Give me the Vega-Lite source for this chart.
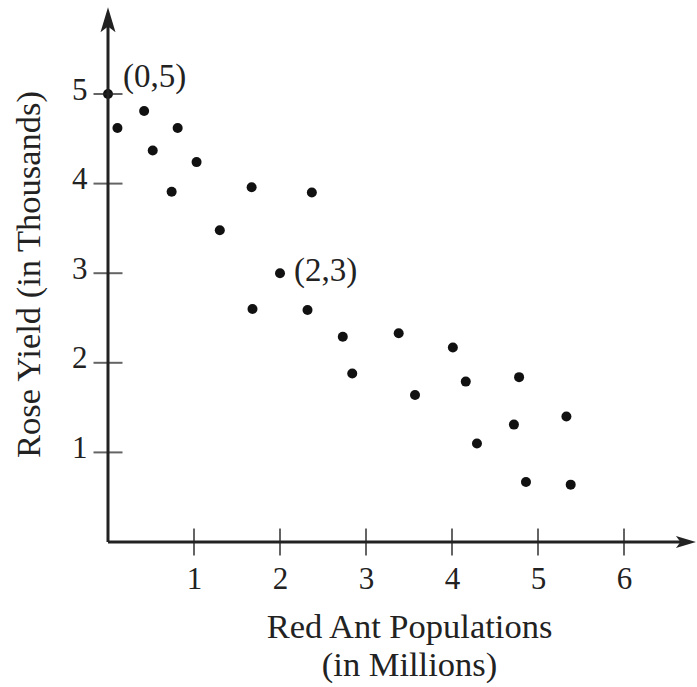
{
  "$schema": "https://vega.github.io/schema/vega-lite/v6.json",
  "width": 588,
  "height": 535,
  "autosize": {"type": "none"},
  "padding": {"left": 108, "top": 7, "right": 1, "bottom": 145},
  "background": "white",
  "config": {"view": {"stroke": null}, "font": "Liberation Serif"},
  "datasets": {
    "points": [
      {"ants": 0, "roses": 5},
      {"ants": 0.11, "roses": 4.62},
      {"ants": 0.42, "roses": 4.81},
      {"ants": 0.81, "roses": 4.62},
      {"ants": 0.52, "roses": 4.37},
      {"ants": 1.03, "roses": 4.24},
      {"ants": 0.74, "roses": 3.91},
      {"ants": 1.67, "roses": 3.96},
      {"ants": 2.37, "roses": 3.9},
      {"ants": 1.3, "roses": 3.48},
      {"ants": 2.0, "roses": 3.0},
      {"ants": 1.68, "roses": 2.6},
      {"ants": 2.32, "roses": 2.59},
      {"ants": 2.73, "roses": 2.29},
      {"ants": 2.84, "roses": 1.88},
      {"ants": 3.38, "roses": 2.33},
      {"ants": 4.01, "roses": 2.17},
      {"ants": 4.16, "roses": 1.79},
      {"ants": 3.57, "roses": 1.64},
      {"ants": 4.78, "roses": 1.84},
      {"ants": 4.72, "roses": 1.31},
      {"ants": 5.33, "roses": 1.4},
      {"ants": 4.29, "roses": 1.1},
      {"ants": 4.86, "roses": 0.67},
      {"ants": 5.38, "roses": 0.64}
    ],
    "notes": [
      {"ants": 0, "roses": 5, "label": "(0,5)"},
      {"ants": 2, "roses": 3, "label": "(2,3)"}
    ],
    "axislines": [
      {"ants": 0, "roses": 0, "x2": 6.72, "y2": 0},
      {"ants": 0, "roses": 0, "x2": 0, "y2": 5.83}
    ],
    "arrows": [
      {"ants": 0, "roses": 5.83, "dir": "up"},
      {"ants": 6.72, "roses": 0, "dir": "right"}
    ],
    "xticks": [{"ants": 1, "roses": 0}, {"ants": 2, "roses": 0}, {"ants": 3, "roses": 0}, {"ants": 4, "roses": 0}, {"ants": 5, "roses": 0}, {"ants": 6, "roses": 0}],
    "yticks": [{"ants": 0, "roses": 1}, {"ants": 0, "roses": 2}, {"ants": 0, "roses": 3}, {"ants": 0, "roses": 4}, {"ants": 0, "roses": 5}]
  },
  "encoding": {
    "x": {
      "field": "ants", "type": "quantitative",
      "scale": {"domain": [0, 6.837], "nice": false, "zero": false},
      "axis": {
        "values": [1, 2, 3, 4, 5, 6],
        "domain": false, "ticks": false, "tickSize": 0, "grid": false,
        "labelFont": "Liberation Serif", "labelFontSize": 31, "labelColor": "#222",
        "labelBaseline": "alphabetic", "labelPadding": 46,
        "title": ["Red Ant Populations", "(in Millions)"],
        "titleFont": "Liberation Serif", "titleFontSize": 34.5, "titleFontWeight": "normal",
        "titleColor": "#222", "titleLineHeight": 38,
        "titleX": 301, "titleY": 95, "titleAlign": "center", "titleBaseline": "alphabetic"
      }
    },
    "y": {
      "field": "roses", "type": "quantitative",
      "scale": {"domain": [0, 5.971], "nice": false, "zero": false},
      "axis": {
        "values": [1, 2, 3, 4, 5],
        "domain": false, "ticks": false, "tickSize": 0, "grid": false,
        "labelFont": "Liberation Serif", "labelFontSize": 31, "labelColor": "#222",
        "labelBaseline": "alphabetic", "labelOffset": 5, "labelAlign": "right", "labelPadding": 21,
        "title": "Rose Yield (in Thousands)",
        "titleFont": "Liberation Serif", "titleFontSize": 34.5, "titleFontWeight": "normal",
        "titleColor": "#222", "titleAngle": 270,
        "titleX": -69, "titleY": 267, "titleAlign": "center", "titleBaseline": "alphabetic"
      }
    }
  },
  "layer": [
    {
      "data": {"name": "points"},
      "mark": {"type": "circle", "size": 100, "color": "#111", "opacity": 1}
    },
    {
      "data": {"name": "axislines"},
      "mark": {"type": "rule", "strokeWidth": 3, "color": "#222"},
      "encoding": {
        "x2": {"field": "x2"},
        "y2": {"field": "y2"}
      }
    },
    {
      "data": {"name": "xticks"},
      "mark": {"type": "tick", "orient": "vertical", "size": 27, "thickness": 2, "color": "#222"}
    },
    {
      "data": {"name": "yticks"},
      "mark": {"type": "tick", "orient": "horizontal", "size": 29, "thickness": 2, "color": "#222"}
    },
    {
      "data": {"name": "arrows"},
      "transform": [{"filter": "datum.dir === 'up'"}],
      "mark": {"type": "point", "shape": "M0,-1L0.6,1L0,0.55L-0.6,1Z", "size": 625, "filled": true, "color": "#222", "opacity": 1}
    },
    {
      "data": {"name": "arrows"},
      "transform": [{"filter": "datum.dir === 'right'"}],
      "mark": {"type": "point", "shape": "M0,-1L0.6,1L0,0.55L-0.6,1Z", "size": 400, "angle": 90, "filled": true, "color": "#222", "opacity": 1}
    },
    {
      "data": {"name": "notes"},
      "transform": [{"filter": "datum.label === '(0,5)'"}],
      "mark": {"type": "text", "font": "Liberation Serif", "fontSize": 33, "color": "#222", "align": "left", "baseline": "alphabetic", "dx": 15, "dy": -7},
      "encoding": {
        "text": {"field": "label"}
      }
    },
    {
      "data": {"name": "notes"},
      "transform": [{"filter": "datum.label === '(2,3)'"}],
      "mark": {"type": "text", "font": "Liberation Serif", "fontSize": 33, "color": "#222", "align": "left", "baseline": "alphabetic", "dx": 14, "dy": 8},
      "encoding": {
        "text": {"field": "label"}
      }
    }
  ]
}
